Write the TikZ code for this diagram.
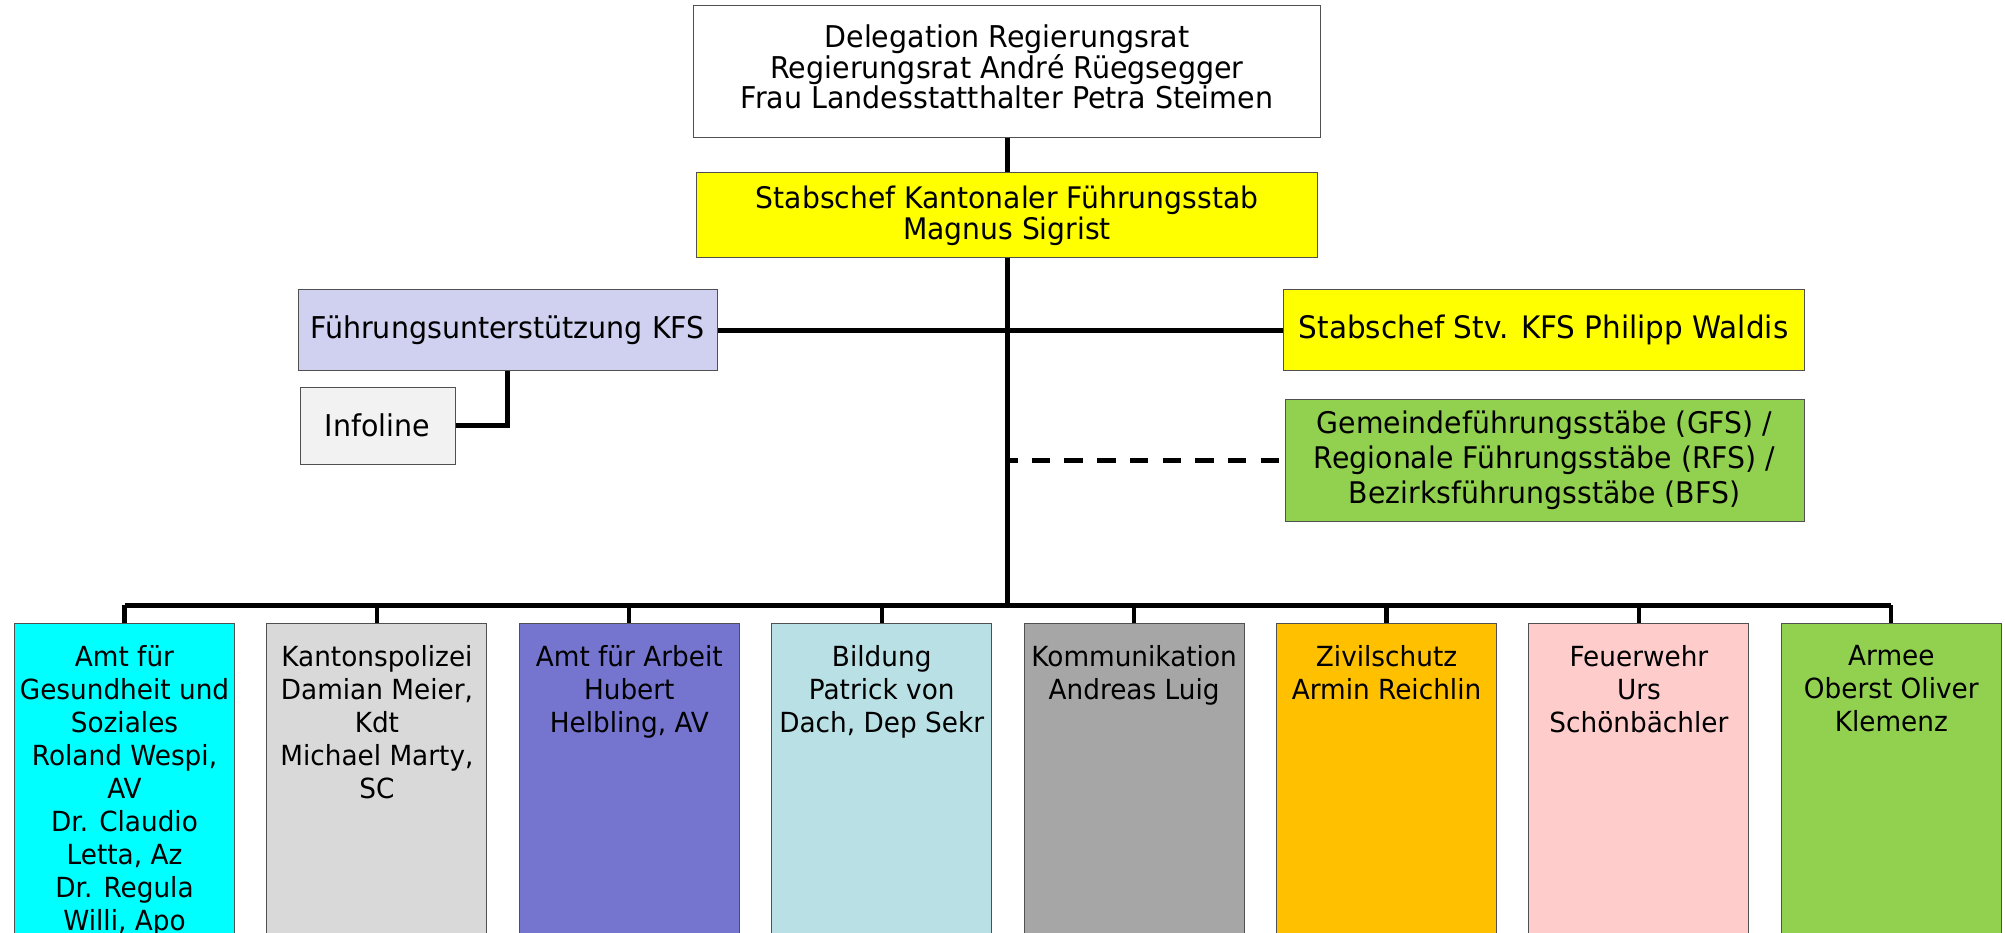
\documentclass[tikz,border=0pt]{standalone}
\usepackage{fontspec}
\setmainfont{DejaVu Sans}[FakeStretch=0.95]
\usepackage{tikz}
\usetikzlibrary{positioning}

\definecolor{boxline}{HTML}{505050}
\definecolor{kfsyellow}{HTML}{FFFF00}
\definecolor{fulila}{HTML}{D0D0F0}
\definecolor{infogray}{HTML}{F2F2F2}
\definecolor{gfsgreen}{HTML}{92D050}
\definecolor{gsicyan}{HTML}{00FFFF}
\definecolor{kapogray}{HTML}{D9D9D9}
\definecolor{awapurple}{HTML}{7575D0}
\definecolor{bildblue}{HTML}{B9E0E4}
\definecolor{kommgray}{HTML}{A6A6A6}
\definecolor{zsorange}{HTML}{FFC000}
\definecolor{fwpink}{HTML}{FFCCCC}
\definecolor{armgreen}{HTML}{92D050}

\tikzset{
  box/.style={draw=boxline,line width=1pt,inner sep=0pt,align=center,
    font=\fontsize{30}{30}\selectfont},
  unit/.style={draw=boxline,line width=1pt,inner sep=0pt,
    minimum width=220pt,minimum height=330pt},
  unittext/.style={inner sep=0pt,align=center,font=\fontsize{27.7}{33}\selectfont},
  link/.style={line width=5pt},
}

\begin{document}
\begin{tikzpicture}[x=1pt,y=-1pt]
        \clip (0,0) rectangle (2005,933);
        \node[box,minimum width=627pt,minimum height=132pt] (rr) at (1007,72) {};
        \node[box,draw=none] (rrtxt) at (1007,67)
            {Delegation Regierungsrat\\Regierungsrat André Rüegsegger\\Frau Landesstatthalter Petra Steimen};
        \node[box,fill=kfsyellow,minimum width=621pt,minimum height=85pt,
            font=\fontsize{29.7}{31}\selectfont] (sc) at (1007,215.5)
            {Stabschef Kantonaler Führungsstab\\Magnus Sigrist};
        \node[box,fill=fulila,minimum width=419pt,minimum height=80pt] (fu) at (507.5,330)
            {Führungsunterstützung KFS};
        \node[box,fill=infogray,minimum width=155pt,minimum height=77pt] (info) at (377.5,425.5)
            {Infoline};
        \node[box,fill=kfsyellow,minimum width=521pt,minimum height=81pt,
            font=\fontsize{31}{31}\selectfont] (stv) at (1543.5,330)
            {Stabschef Stv. KFS Philipp Waldis};
        \node[box,fill=gfsgreen,minimum width=519pt,minimum height=122pt,
            font=\fontsize{29.8}{35}\selectfont] (gfs) at (1544.5,460)
            {Gemeindeführungsstäbe (GFS) /\\Regionale Führungsstäbe (RFS) /\\Bezirksführungsstäbe (BFS)};
        \coordinate (bus) at (1007,605);

        \foreach \x/\col/\txt [remember=\x as \p (initially 1)] in {
            1/gsicyan/{Amt für\\Gesundheit und\\Soziales\\Roland Wespi,\\AV\\Dr. Claudio\\Letta, Az\\Dr. Regula\\Willi, Apo},
            2/kapogray/{Kantonspolizei\\Damian Meier,\\Kdt\\Michael Marty,\\SC},
            3/awapurple/{Amt für Arbeit\\Hubert\\Helbling, AV},
            4/bildblue/{Bildung\\Patrick von\\Dach, Dep Sekr},
            5/kommgray/{Kommunikation\\Andreas Luig},
            6/zsorange/{Zivilschutz\\Armin Reichlin},
            7/fwpink/{Feuerwehr\\Urs\\Schönbächler},
            8/armgreen/{Armee\\Oberst Oliver\\Klemenz}}{
            \ifnum \x=1
                \node[unit,fill=\col,anchor=north west] (b\x) at (14,623) {};
            \else
                \node[unit,fill=\col] (b\x) [right=31.4pt of b\p] {};
            \fi
            \node[unittext] (t\x) [below=22pt of b\x.north] {\txt};
            \draw[line width=4.3pt] (b\x.north |- bus) -- (b\x.north);
        }

        \draw[link] (rr.south) -- (sc.north);
        \draw[link] (sc.south) -- (bus);
        \draw[link] (b1.north |- bus) -- (b8.north |- bus);
        \draw[link] (fu.east) -- (stv.west);
        \draw[line width=4.5pt] (fu.south) |- (info.east);
        \draw[link,dash pattern=on 18.5pt off 14.2pt,dash phase=8pt] (gfs.west -| bus) -- (gfs.west);
\end{tikzpicture}
\end{document}
